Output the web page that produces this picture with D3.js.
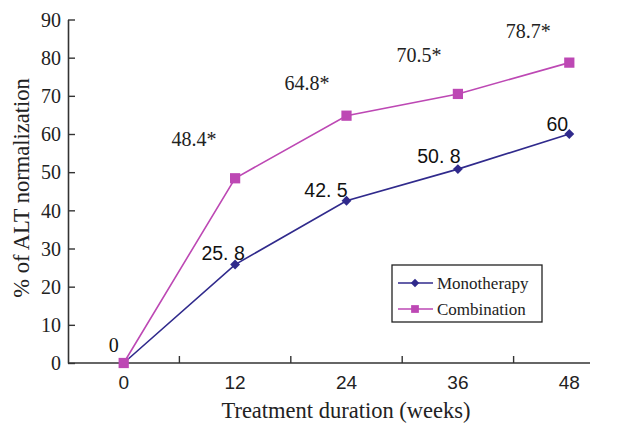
<!DOCTYPE html>
<html><head><meta charset="utf-8">
<script src="https://cdn.jsdelivr.net/npm/d3@7"></script>
<style>body{margin:0;background:#fff;} svg{display:block;}</style>
</head><body>
<svg id="c" width="624" height="425"></svg>
<script>
const categories = ["0","12","24","36","48"];
const monotherapy = [0, 25.8, 42.5, 50.8, 60];
const combination = [0, 48.4, 64.8, 70.5, 78.7];
const monoLabels = ["0","25. 8","42. 5","50. 8","60"];
const comboLabels = ["","48.4*","64.8*","70.5*","78.7*"];
const yTicks = [0,10,20,30,40,50,60,70,80,90];
const seriesNames = ["Monotherapy","Combination"];

const svg = d3.select("#c");
const serif = "Liberation Serif";
const sans = "Liberation Sans";
const axisColor = "#333";
const monoColor = "#302a8c";
const comboColor = "#bd48b4";

const x = d3.scaleBand().domain(categories).range([68, 625]).padding(0);
const cx = c => x(c) + x.bandwidth()/2;
const y = d3.scaleLinear().domain([0, 90]).range([363, 19.5]);

// Y axis
const yAxis = svg.append("g").attr("transform","translate(68,0)")
  .attr("font-family", serif).attr("font-size", 20)
  .call(d3.axisLeft(y).tickValues(yTicks).tickSizeInner(-7).tickSizeOuter(0).tickPadding(7));
yAxis.attr("font-family", serif).attr("font-size", 20);
yAxis.select(".domain").attr("stroke", axisColor).attr("stroke-width", 1.6);
yAxis.selectAll(".tick line").attr("stroke", axisColor).attr("stroke-width", 1.4);
yAxis.selectAll(".tick text").attr("font-family", serif).attr("font-size", 20).attr("fill","#222").attr("dy","0.34em");

// X axis
svg.append("line").attr("x1",68).attr("x2",590).attr("y1",y(0)).attr("y2",y(0))
  .attr("stroke",axisColor).attr("stroke-width",1.6);
categories.slice(1).forEach(c=>{
  svg.append("line").attr("x1",x(c)).attr("x2",x(c)).attr("y1",y(0)).attr("y2",y(0)-7)
    .attr("stroke",axisColor).attr("stroke-width",1.4);
});
svg.append("g").selectAll("text").data(categories).join("text")
  .attr("x", d=>cx(d)).attr("y", 389).attr("text-anchor","middle")
  .attr("font-family", sans).attr("font-size", 19).attr("fill","#222").text(d=>d);

// Axis titles
svg.append("text").attr("x",346).attr("y",418).attr("text-anchor","middle")
  .attr("font-family",serif).attr("font-size",22.5).attr("fill","#222").text("Treatment duration (weeks)");
svg.append("text").attr("transform","translate(29,188) rotate(-90)").attr("text-anchor","middle")
  .attr("font-family",serif).attr("font-size",22.5).attr("fill","#222").text("% of ALT normalization");

// Lines
const line = d3.line().x((d,i)=>cx(categories[i])).y(d=>y(d));
svg.append("path").datum(monotherapy).attr("d",line).attr("fill","none").attr("stroke",monoColor).attr("stroke-width",1.6);
svg.append("path").datum(combination).attr("d",line).attr("fill","none").attr("stroke",comboColor).attr("stroke-width",1.6);

const diamond = d3.symbol().type(d3.symbolDiamond2).size(62);
const square = d3.symbol().type(d3.symbolSquare).size(105);
svg.append("g").selectAll("path").data(monotherapy).join("path")
  .attr("d", diamond).attr("transform",(d,i)=>`translate(${cx(categories[i])},${y(d)})`)
  .attr("fill", monoColor);
svg.append("g").selectAll("path").data(combination).join("path")
  .attr("d", square).attr("transform",(d,i)=>`translate(${cx(categories[i])},${y(d)})`)
  .attr("fill", comboColor);

// Data labels
const monoOff = [[-10,-11],[-12,-4.5],[-20.5,-4],[-19,-6],[-12,-3]];
svg.append("g").selectAll("text").data(monotherapy).join("text")
  .attr("x",(d,i)=>cx(categories[i])+monoOff[i][0]).attr("y",(d,i)=>y(d)+monoOff[i][1])
  .attr("text-anchor","middle").attr("font-family",(d,i)=>i===0?serif:sans).attr("font-size",(d,i)=>i===0?20:19.5)
  .attr("fill","#111").text((d,i)=>monoLabels[i]);
const comboOff = [[0,0],[-41,-32],[-39.5,-26],[-39,-32],[-41,-24.6]];
svg.append("g").selectAll("text").data(combination).join("text")
  .attr("x",(d,i)=>cx(categories[i])+comboOff[i][0]).attr("y",(d,i)=>y(d)+comboOff[i][1])
  .attr("text-anchor","middle").attr("font-family",serif).attr("font-size",20)
  .attr("fill","#222").text((d,i)=>comboLabels[i]);

// Legend
const lg = svg.append("g");
lg.append("rect").attr("x",392).attr("y",265).attr("width",150).attr("height",57)
  .attr("fill","#fff").attr("stroke","#222").attr("stroke-width",1.3);
const colors = [monoColor, comboColor];
seriesNames.forEach((n,i)=>{
  const yy = 283 + i*26;
  lg.append("line").attr("x1",398).attr("x2",433).attr("y1",yy).attr("y2",yy).attr("stroke",colors[i]).attr("stroke-width",1.6);
  lg.append("path").attr("d", i===0 ? d3.symbol().type(d3.symbolDiamond2).size(45)() : d3.symbol().type(d3.symbolSquare).size(60)())
    .attr("transform",`translate(415,${yy})`).attr("fill",colors[i]);
  lg.append("text").attr("x",437).attr("y",yy+5.5).attr("font-family",serif).attr("font-size",17)
    .attr("fill","#222").text(n);
});
</script>
</body></html>
